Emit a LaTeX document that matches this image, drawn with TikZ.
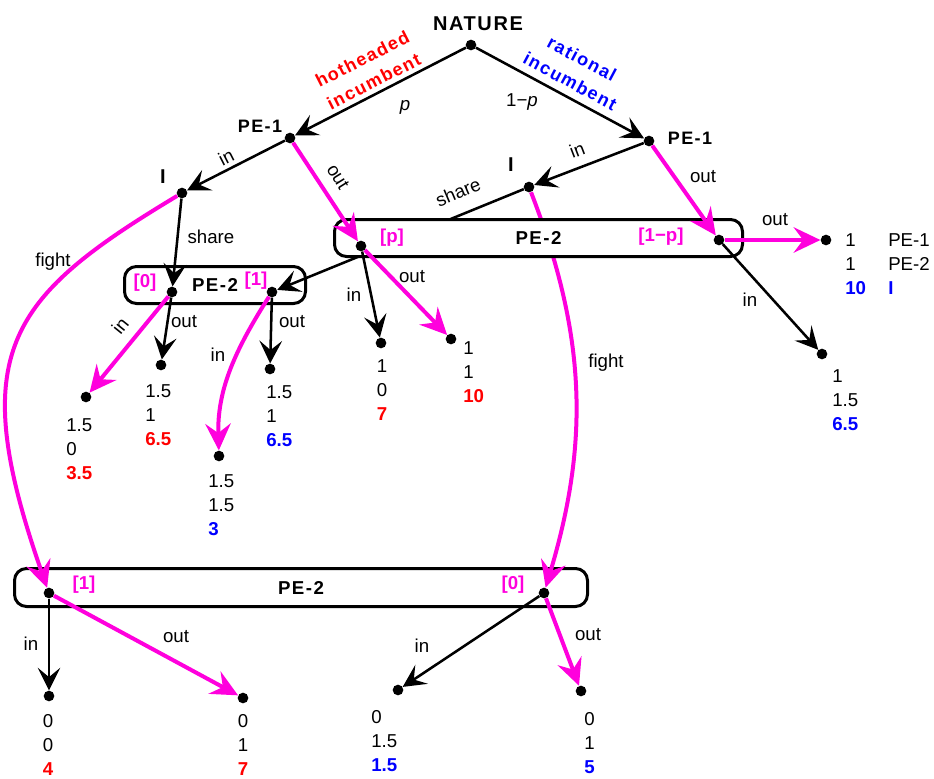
\documentclass[tikz,border=0pt]{standalone}
\usepackage{fontspec}
\setmainfont{Liberation Sans}
\usepackage{xcolor}
\usetikzlibrary{arrows.meta,positioning}
\definecolor{pemag}{RGB}{255,0,221}
\definecolor{hotred}{RGB}{255,0,0}
\definecolor{ratblue}{RGB}{0,0,255}
\newcommand{\hot}[1]{\textcolor{hotred}{\textbf{#1}}}
\newcommand{\rat}[1]{\textcolor{ratblue}{\textbf{#1}}}

\begin{document}
\begin{tikzpicture}[
    x=0.75pt, y=-0.75pt,
    dot/.style={circle, fill=black, inner sep=0pt, minimum size=8pt},
    arrow/.style={-{Stealth[length=17pt, width=17pt, inset=7pt]}, line width=1.9pt, draw=black},
    marrow/.style={-{Stealth[length=20pt, width=19pt, inset=7pt]}, line width=3pt, draw=pemag},
    lbl/.style={font=\fontsize{14}{18}\selectfont, inner sep=0pt},
    head/.style={font=\fontsize{13.5}{19}\selectfont\bfseries\addfontfeature{LetterSpace=8}, inner sep=0pt},
    bighead/.style={font=\fontsize{15}{18}\selectfont\bfseries\addfontfeature{LetterSpace=8}, inner sep=0pt},
    tag/.style={font=\fontsize{14}{18}\selectfont\bfseries, text=pemag, inner sep=0pt},
    pay/.style={font=\fontsize{14}{18}\selectfont, inner sep=0pt, align=left, anchor=north west},
    payc/.style={pay, align=center, anchor=north},
    box/.style={draw=black, line width=2.25pt, fill=white, rounded corners=9pt, inner sep=0pt, minimum height=27.75pt, font=\fontsize{14}{18}\selectfont\bfseries\addfontfeature{LetterSpace=8}}
]
\useasboundingbox (0,0) rectangle (934,778);

\node[box, minimum width=135.75pt] (boxS) at (215,285) {PE-2};
\node[box, minimum width=429.75pt, minimum height=28.5pt] (boxB) at (301,587.5) {PE-2};

\node[dot] (nat) at (471,45) {};
\node[dot] (peA) at (290,138) {};
\node[dot] (peB) at (649,141) {};
\node[dot] (iA) at (182,193) {};
\node[dot] (iB) at (529,187) {};
\node[dot] (s0) at (172,292) {};
\node[dot] (s1) at (272,292) {};
\node[dot] (b1) at (49,593) {};
\node[dot] (b0) at (544,593) {};
\node[dot] (t1) at (86,397) {};
\node[dot] (t2) at (161,365) {};
\node[dot] (t3) at (219,456) {};
\node[dot] (t4) at (270,369) {};
\node[dot] (t5) at (381,343) {};
\node[dot] (t6) at (451,339) {};
\node[dot] (t7) at (826,240) {};
\node[dot] (t8) at (822,354) {};
\node[dot] (t9) at (49,696) {};
\node[dot] (t10) at (243,698) {};
\node[dot] (t11) at (398,690) {};
\node[dot] (t12) at (581,691) {};

\draw[arrow] (iB) -- (s1);
\draw[marrow] (iB) .. controls (587,337) and (589,443) .. (b0);

\node[box, minimum width=306pt] (boxT) at (538.5,238) {PE-2};
\node[dot] (sp) at (361,246) {};
\node[dot] (sq) at (719,240) {};

\node[bighead] (natlab) at (478,24) {NATURE};
\node[head] (peAlab) at (260,126) {PE-1};
\node[head] (peBlab) at (690,138) {PE-1};
\node[bighead] (iAlab) at (163,177) {I};
\node[bighead] (iBlab) at (511,165) {I};
\node[head, text=hotred, align=center, rotate=27] (hotlab) at (368,70) {hotheaded\\incumbent};
\node[head, text=ratblue, align=center, rotate=-28] (ratlab) at (576,70) {rational\\incumbent};
\node[lbl] (plab) at (405,107) {\textit{p}};
\node[lbl] (qlab) at (522,102) {1−\textit{p}};

\node[tag] (splab) at (392,238) {[p]};
\node[tag] (sqlab) at (661,237) {[1−p]};
\node[tag] (s0lab) at (145,283) {[0]};
\node[tag] (s1lab) at (256,281) {[1]};
\node[tag] (b1lab) at (84,585) {[1]};
\node[tag] (b0lab) at (513,585) {[0]};

\draw[arrow] (nat) -- (peA);
\draw[arrow] (nat) -- (peB);
\draw[arrow] (peA) -- (iA);
\draw[marrow] (peA) -- (sp);
\draw[arrow] (peB) -- (iB);
\draw[marrow] (peB) -- (sq);
\draw[arrow] (iA) -- (s0);
\draw[marrow] (iA) .. controls (7,298) and (-35,353) .. (b1);
\draw[marrow] (s0) -- (t1);
\draw[arrow] (s0) -- (t2);
\draw[marrow] (s1) .. controls (235,350) and (217,390) .. (t3);
\draw[arrow] (s1) -- (t4);
\draw[arrow] (sp) -- (t5);
\draw[marrow] (sp) -- (t6);
\draw[marrow] (sq) -- (t7);
\draw[arrow] (sq) -- (t8);
\draw[arrow] (b1) -- (t9);
\draw[marrow] (b1) -- (t10);
\draw[arrow] (b0) -- (t11);
\draw[marrow] (b0) -- (t12);

\node[lbl, rotate=27] (inA) at (226,157) {in};
\node[lbl, rotate=-58] (outA) at (338,177) {out};
\node[lbl, rotate=21] (inB) at (577,150) {in};
\node[lbl] (outB) at (703,177) {out};
\node[lbl, rotate=23] (shareB) at (458,192) {share};
\node[lbl] (shareA) at (211,237) {share};
\node[lbl] (fightA) at (53,262) {fight};
\node[lbl] (fightB) at (606,363) {fight};
\node[lbl, rotate=51] (inS0) at (120,326) {in};
\node[lbl] (outS0) at (184,322) {out};
\node[lbl] (inS1) at (218,355) {in};
\node[lbl] (outS1) at (292,322) {out};
\node[lbl] (inSp) at (354,295) {in};
\node[lbl] (outSp) at (412,277) {out};
\node[lbl] (outSq) at (775,220) {out};
\node[lbl] (inSq) at (750,300) {in};
\node[lbl] (inB1) at (31,644) {in};
\node[lbl] (outB1) at (176,637) {out};
\node[lbl] (inB0) at (422,646) {in};
\node[lbl] (outB0) at (588,635) {out};

\node[pay] (p1) at (66,418.5) {1.5\\0\\\hot{3.5}};
\node[pay] (p2) at (145,384.5) {1.5\\1\\\hot{6.5}};
\node[pay] (p3) at (208,474.5) {1.5\\1.5\\\rat{3}};
\node[pay] (p4) at (266,385.5) {1.5\\1\\\rat{6.5}};
\node[payc] (p5) at (382,359.5) {1\\0\\\hot{7}};
\node[pay] (p6) at (463,341.5) {1\\1\\\hot{10}};
\node[pay] (p7) at (845,233.5) {1\\1\\\rat{10}};
\node[pay] (p7who) at (888,233.5) {PE-1\\PE-2\\\rat{I}};
\node[pay] (p8) at (832,369.5) {1\\1.5\\\rat{6.5}};
\node[payc] (p9) at (48,714) {0\\0\\\hot{4}};
\node[payc] (p10) at (243,714) {0\\1\\\hot{7}};
\node[pay] (p11) at (371,710.5) {0\\1.5\\\rat{1.5}};
\node[pay] (p12) at (584,712.5) {0\\1\\\rat{5}};

\end{tikzpicture}
\end{document}
